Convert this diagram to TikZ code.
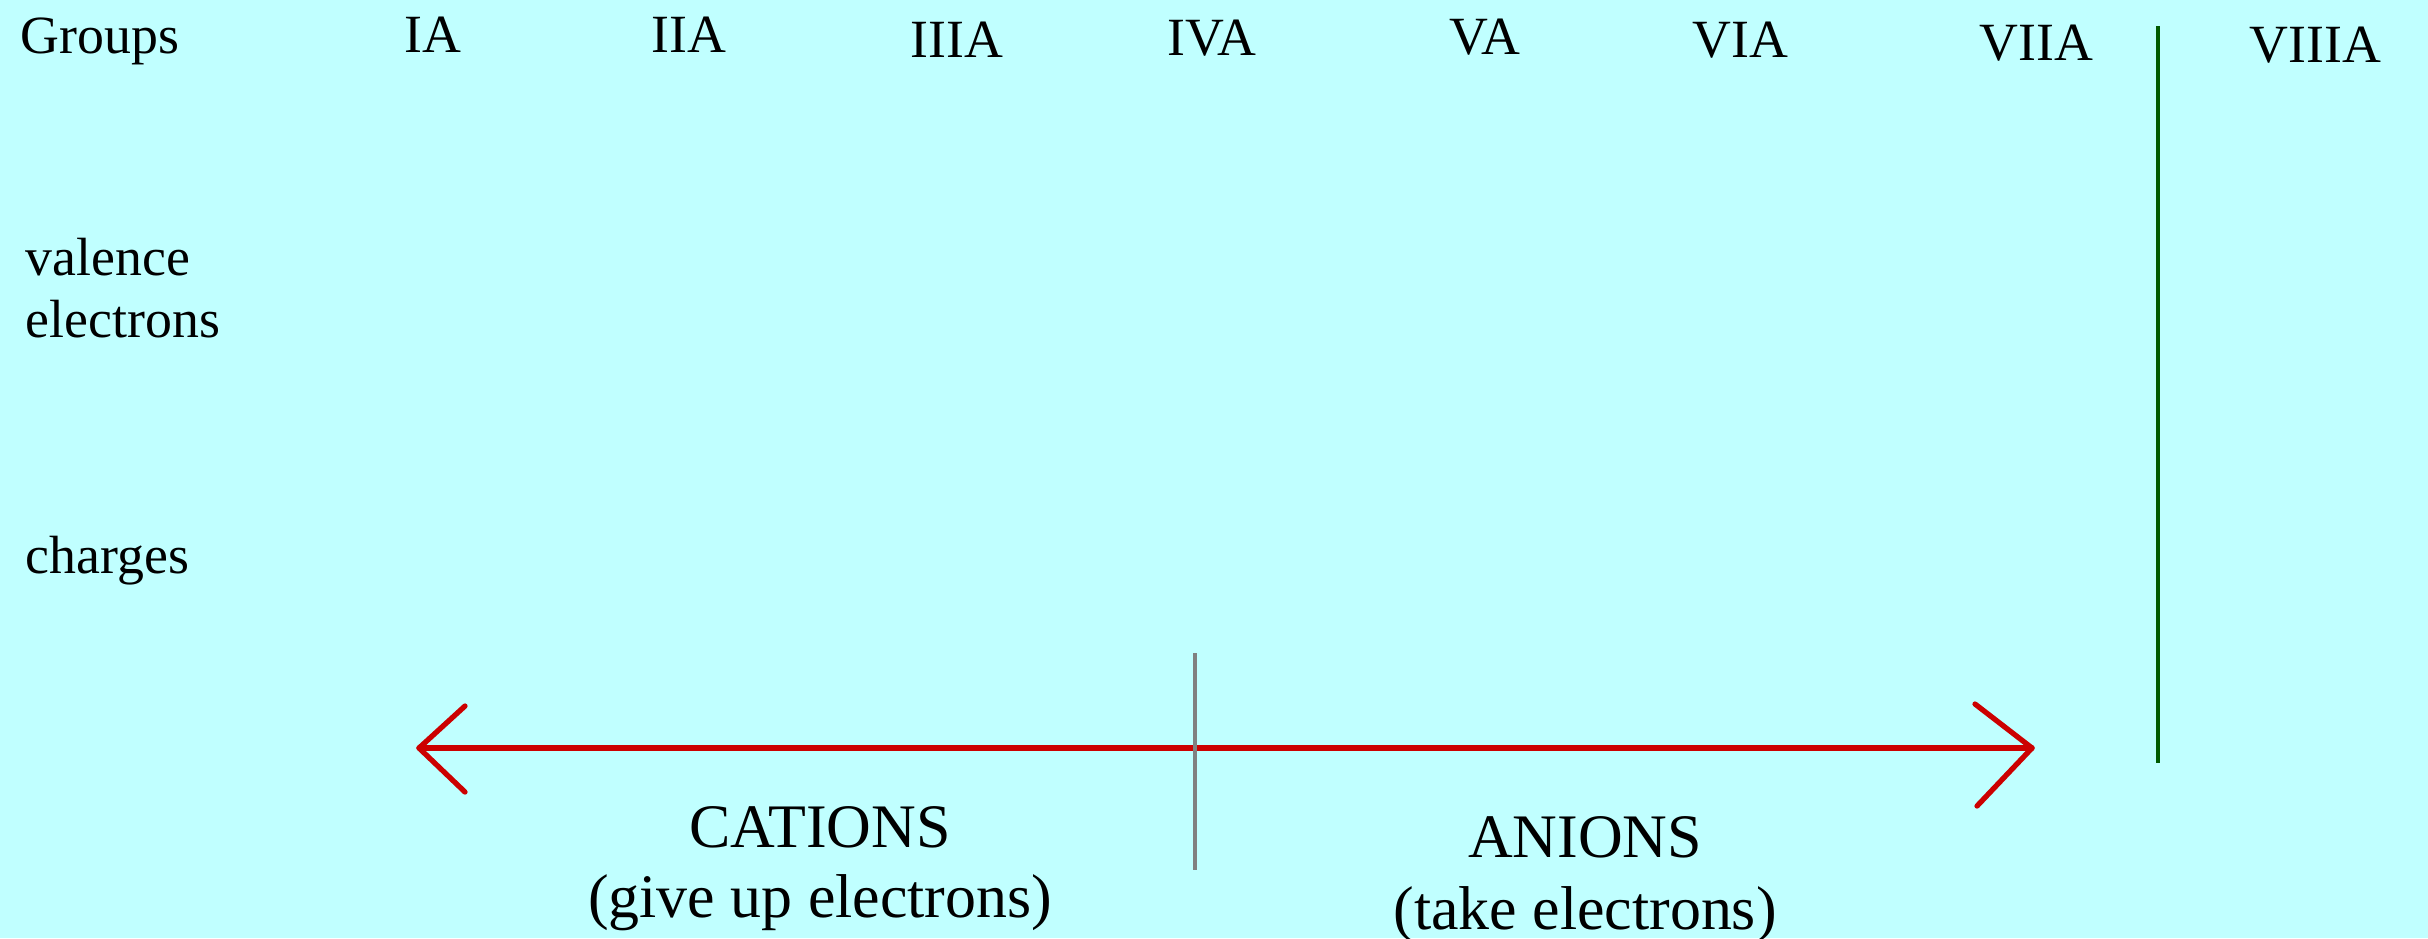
\documentclass[tikz,border=0pt]{standalone}
\usepackage{fontspec}
\setmainfont{Liberation Serif}
\definecolor{bgcyan}{HTML}{C0FFFF}
\definecolor{arrred}{HTML}{CC0000}
\definecolor{divgreen}{HTML}{005A00}
\definecolor{divgray}{HTML}{808080}
\begin{document}
\begin{tikzpicture}[x=0.01cm,y=-0.01cm,
  lbl/.style={inner sep=0pt,anchor=base west,font=\fontsize{15.3}{17.5}\selectfont},
  big/.style={inner sep=0pt,anchor=base,font=\fontsize{17.6}{19.9}\selectfont},
  redline/.style={draw=arrred,line width=1.5pt,line cap=round,line join=round}]
\fill[bgcyan] (0,0) rectangle (2428,938);
\useasboundingbox (0,0) rectangle (2428,938);
% row labels
\node[lbl] (groups) at (20,53) {Groups};
\node[lbl] (valence) at (25,275) {valence};
\node[lbl] (electrons) at (25,337) {electrons};
\node[lbl] (charges) at (25,573) {charges};
% group headers
\node[lbl] (g1) at (404,52) {IA};
\node[lbl] (g2) at (651,52) {IIA};
\node[lbl] (g3) at (910,57) {IIIA};
\node[lbl] (g4) at (1167,55) {IVA};
\node[lbl] (g5) at (1449,54) {VA};
\node[lbl] (g6) at (1692,57) {VIA};
\node[lbl] (g7) at (1979,60) {VIIA};
\node[lbl] (g8) at (2249,62) {VIIIA};
% green divider
\coordinate (gtop) at (2158,26);
\coordinate (gbot) at (2158,763);
\draw[divgreen,line width=1.1pt] (gtop) -- (gbot);
% arrow
\coordinate (L) at (419,748);
\coordinate (R) at (2032,748);
\coordinate (La) at (465,706);
\coordinate (Lb) at (465,792);
\coordinate (Ra) at (1975,704);
\coordinate (Rb) at (1977,806);
\draw[redline] (L) -- (R);
\draw[redline] (La) -- (L) -- (Lb);
\draw[redline] (Ra) -- (R) -- (Rb);
% gray divider
\coordinate (mtop) at (1195,653);
\coordinate (mbot) at (1195,870);
\draw[divgray,line width=1.1pt] (mtop) -- (mbot);
% captions
\node[big] (cat1) at (820,847) {CATIONS};
\node[big] (cat2) at (820,917) {(give up electrons)};
\node[big] (an1) at (1585,857) {ANIONS};
\node[big] (an2) at (1585,929) {(take electrons)};
\end{tikzpicture}
\end{document}
